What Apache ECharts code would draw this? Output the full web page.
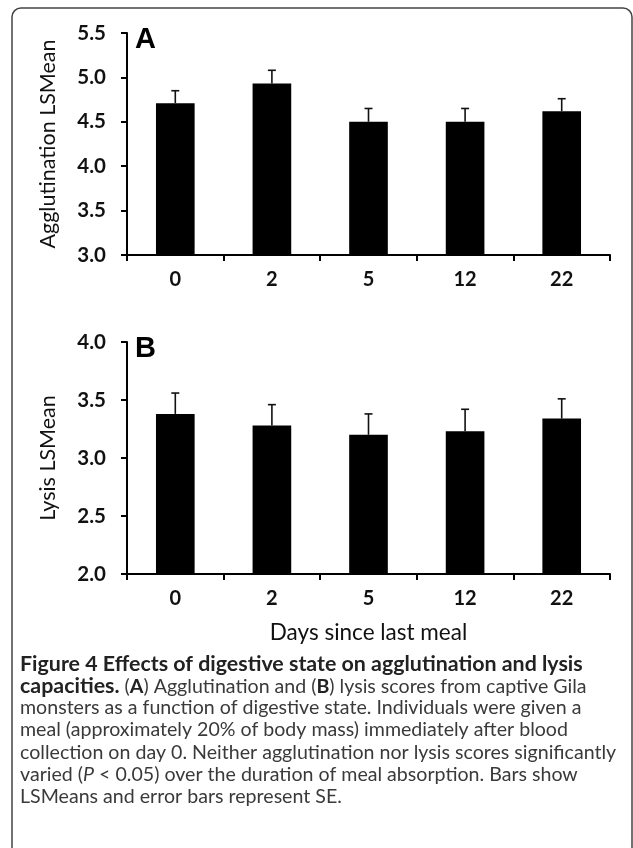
<!DOCTYPE html>
<html>
<head>
<meta charset="utf-8">
<script src="https://cdn.jsdelivr.net/npm/echarts@6/dist/echarts.min.js"></script>
<style>
html,body{margin:0;padding:0;background:#fff;}
#chart{width:633px;height:848px;}
</style>
</head>
<body>
<div id="chart"></div>
<script>
// ---- data ----
var categories = ['0', '2', '5', '12', '22'];
var agglutinationMean = [4.71, 4.93, 4.50, 4.50, 4.62];
var agglutinationSE = [0.14, 0.15, 0.15, 0.15, 0.14];
var lysisMean = [3.38, 3.28, 3.20, 3.23, 3.34];
var lysisSE = [0.18, 0.18, 0.18, 0.19, 0.17];
var agglutinationTicks = [3.0, 5.5, 0.5]; // min, max, interval
var lysisTicks = [2.0, 4.0, 0.5];

var chart = echarts.init(document.getElementById('chart'));
var FONT = 'Lato';

function errData(means, ses) {
  return means.map(function (m, i) { return [i, m, m + ses[i]]; });
}
function errRender(params, api) {
  var base = api.coord([api.value(0), api.value(1)]);
  var top = api.coord([api.value(0), api.value(2)]);
  var half = 4;
  var st = { stroke: '#111', lineWidth: 1.6 };
  return {
    type: 'group',
    children: [
      { type: 'line', shape: { x1: base[0], y1: base[1], x2: top[0], y2: top[1] }, style: st },
      { type: 'line', shape: { x1: top[0] - half, y1: top[1], x2: top[0] + half, y2: top[1] }, style: st }
    ]
  };
}

function xAxisDef(gridIndex, withName) {
  var ax = {
    type: 'category', gridIndex: gridIndex, data: categories,
    boundaryGap: true,
    axisLine: { lineStyle: { color: '#000', width: 2 } },
    axisTick: { show: true, length: 6, lineStyle: { color: '#000', width: 2 } },
    axisLabel: { margin: 15, fontFamily: FONT, fontSize: 20, fontWeight: 'bold', color: '#111' },
    splitLine: { show: false }
  };
  if (withName) {
    ax.name = 'Days since last meal';
    ax.nameLocation = 'middle';
    ax.nameGap = 47;
    ax.nameTextStyle = { fontFamily: FONT, fontSize: 22.5, color: '#111' };
  }
  return ax;
}
function yAxisDef(gridIndex, ticks, name) {
  return {
    type: 'value', gridIndex: gridIndex, min: ticks[0], max: ticks[1], interval: ticks[2],
    name: name, nameLocation: 'middle', nameGap: 68, nameRotate: 90,
    nameTextStyle: { fontFamily: FONT, fontSize: 21.5, color: '#111' },
    axisLine: { show: true, lineStyle: { color: '#000', width: 2 } },
    axisTick: { show: true, length: 6, lineStyle: { color: '#000', width: 2 } },
    axisLabel: { margin: 21, fontFamily: FONT, fontSize: 20.5, fontWeight: 'bold', color: '#111',
      formatter: function (v) { return v.toFixed(1); } },
    splitLine: { show: false }
  };
}

var captionLines = [
  '{h|Figure 4 Effects of digestive state on agglutination and lysis}',
  '{h|capacities.} {n|(}{b|A}{n|) Agglutination and (}{b|B}{n|) lysis scores from captive Gila}',
  '{n|monsters as a function of digestive state. Individuals were given a}',
  '{n|meal (approximately 20% of body mass) immediately after blood}',
  '{n|collection on day 0. Neither agglutination nor lysis scores significantly}',
  '{n|varied (}{i|P}{n| < 0.05) over the duration of meal absorption. Bars show}',
  '{n|LSMeans and error bars represent SE.}'
];
var captionY = [665, 687, 709, 731, 754, 776, 798];
var CAP = 19.6;
var rich = {
  h: { fontFamily: FONT, fontSize: 21.4, fontWeight: 'bold', fill: '#222', color: '#222' },
  b: { fontFamily: FONT, fontSize: CAP, fontWeight: 'bold', fill: '#222', color: '#222' },
  n: { fontFamily: FONT, fontSize: CAP, fill: '#3a3a3a', color: '#3a3a3a' },
  i: { fontFamily: FONT, fontSize: CAP, fontStyle: 'italic', fill: '#3a3a3a', color: '#3a3a3a' }
};
var graphics = [
  { type: 'rect', shape: { x: 12, y: 8, width: 620, height: 848, r: 9 },
    style: { fill: 'none', stroke: '#444', lineWidth: 1.5 }, z: -1 },
  { type: 'text', left: 135, top: 25, style: { text: 'A', font: 'bold 29px Arial', fill: '#000' } },
  { type: 'text', left: 135, top: 334, style: { text: 'B', font: 'bold 29px Arial', fill: '#000' } }
];
captionLines.forEach(function (t, k) {
  graphics.push({ type: 'text', left: 20, top: captionY[k] - 11,
    style: { text: t, rich: rich, fontFamily: FONT, fontSize: CAP, fill: '#3a3a3a' } });
});

chart.setOption({
  animation: false,
  backgroundColor: '#fff',
  grid: [
    { left: 127, right: 23, top: 33, height: 222 },
    { left: 127, right: 23, top: 342, height: 232 }
  ],
  xAxis: [xAxisDef(0, false), xAxisDef(1, true)],
  yAxis: [yAxisDef(0, agglutinationTicks, 'Agglutination LSMean'), yAxisDef(1, lysisTicks, 'Lysis LSMean')],
  series: [
    { type: 'bar', xAxisIndex: 0, yAxisIndex: 0, data: agglutinationMean, barWidth: '40%',
      itemStyle: { color: '#000' } },
    { type: 'custom', xAxisIndex: 0, yAxisIndex: 0, data: errData(agglutinationMean, agglutinationSE),
      renderItem: errRender, z: 3 },
    { type: 'bar', xAxisIndex: 1, yAxisIndex: 1, data: lysisMean, barWidth: '40%',
      itemStyle: { color: '#000' } },
    { type: 'custom', xAxisIndex: 1, yAxisIndex: 1, data: errData(lysisMean, lysisSE),
      renderItem: errRender, z: 3 }
  ],
  graphic: graphics
});
</script>
</body>
</html>
